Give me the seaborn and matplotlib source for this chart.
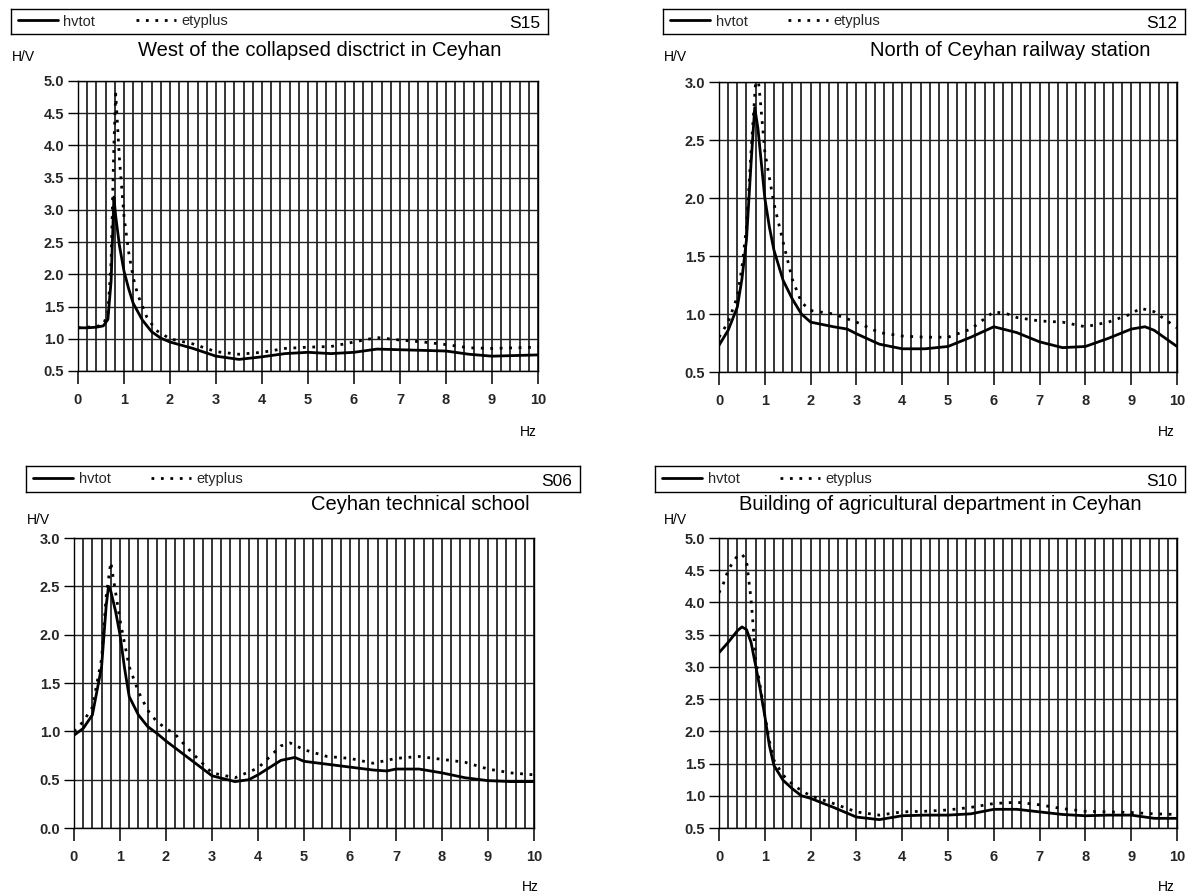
import numpy as np
import pandas as pd
import matplotlib
matplotlib.use("Agg")
import matplotlib.pyplot as plt
from matplotlib.lines import Line2D
from matplotlib.ticker import MultipleLocator
import seaborn as sns

# ---------------- data ----------------
series_names = ["hvtot", "etyplus"]
stations = ["S15", "S12", "S06", "S10"]
titles = ["West of the collapsed disctrict in Ceyhan",
          "North of Ceyhan railway station",
          "Ceyhan technical school",
          "Building of agricultural department in Ceyhan"]
ylims = [(0.5, 5.0), (0.5, 3.0), (0.0, 3.0), (0.5, 5.0)]
x_ticks = [0, 1, 2, 3, 4, 5, 6, 7, 8, 9, 10]

s15_hvtot_hz = [0, 0.2, 0.4, 0.55, 0.65, 0.72, 0.78, 0.82, 0.9, 1.0, 1.1, 1.2, 1.4, 1.6, 1.8, 2.0,
                2.5, 3.0, 3.5, 4.0, 4.5, 5.0, 5.5, 6.0, 6.5, 7.0, 7.5, 8.0, 8.5, 9.0, 9.5, 10]
s15_hvtot = [1.17, 1.17, 1.18, 1.2, 1.3, 1.9, 3.2, 2.9, 2.45, 2.05, 1.78, 1.55, 1.29, 1.11, 1.01, 0.95,
             0.85, 0.73, 0.68, 0.72, 0.77, 0.79, 0.77, 0.79, 0.84, 0.83, 0.82, 0.81, 0.76, 0.73, 0.74, 0.75]
s15_ety_hz = [0, 0.2, 0.4, 0.55, 0.65, 0.72, 0.78, 0.82, 0.86, 0.9, 1.0, 1.1, 1.2, 1.3, 1.5, 1.7, 2.0,
              2.5, 3.0, 3.5, 4.0, 4.5, 5.0, 5.5, 6.0, 6.5, 7.0, 7.5, 8.0, 8.5, 9.0, 9.5, 10]
s15_ety = [1.17, 1.18, 1.19, 1.22, 1.4, 2.2, 4.0, 4.8, 4.3, 3.8, 2.9, 2.35, 1.95, 1.68, 1.33, 1.13, 1.0,
           0.92, 0.8, 0.76, 0.79, 0.85, 0.87, 0.88, 0.95, 1.02, 0.98, 0.95, 0.91, 0.86, 0.85, 0.86, 0.87]

s12_hvtot_hz = [0, 0.2, 0.4, 0.5, 0.6, 0.7, 0.78, 0.85, 0.9, 1.0, 1.1, 1.2, 1.4, 1.6, 1.8, 2.0, 2.5,
                2.8, 3.0, 3.5, 4.0, 4.5, 5.0, 5.5, 6.0, 6.5, 7.0, 7.5, 8.0, 8.5, 9.0, 9.3, 9.5, 10]
s12_hvtot = [0.73, 0.86, 1.06, 1.3, 1.64, 2.3, 2.78, 2.6, 2.4, 2.0, 1.75, 1.55, 1.29, 1.13, 1.0, 0.93, 0.89,
             0.87, 0.83, 0.74, 0.7, 0.7, 0.72, 0.8, 0.89, 0.84, 0.76, 0.71, 0.72, 0.79, 0.87, 0.89, 0.86, 0.72]
s12_ety_hz = [0, 0.2, 0.4, 0.5, 0.6, 0.7, 0.8, 0.85, 0.9, 1.0, 1.2, 1.4, 1.6, 1.8, 2.0, 2.5, 3.0, 3.5,
              4.0, 4.5, 5.0, 5.5, 6.0, 6.3, 6.5, 7.0, 7.5, 8.0, 8.5, 9.0, 9.2, 9.5, 10]
s12_ety = [0.8, 0.93, 1.15, 1.4, 1.75, 2.4, 3.0, 3.05, 2.85, 2.4, 1.95, 1.62, 1.3, 1.1, 1.03, 1.0, 0.93, 0.84,
           0.81, 0.8, 0.8, 0.87, 1.02, 1.0, 0.97, 0.94, 0.93, 0.89, 0.93, 1.0, 1.05, 1.02, 0.88]

s06_hvtot_hz = [0, 0.2, 0.4, 0.6, 0.7, 0.75, 0.8, 0.9, 1.0, 1.1, 1.2, 1.4, 1.6, 1.8, 2.0, 2.5, 3.0, 3.5,
                3.8, 4.0, 4.5, 4.8, 5.0, 5.5, 6.0, 6.5, 6.8, 7.0, 7.5, 8.0, 8.5, 9.0, 9.5, 10]
s06_hvtot = [0.96, 1.03, 1.17, 1.67, 2.3, 2.5, 2.45, 2.25, 2.0, 1.65, 1.36, 1.17, 1.05, 0.98, 0.9, 0.72, 0.54,
             0.48, 0.5, 0.55, 0.7, 0.73, 0.69, 0.66, 0.63, 0.6, 0.59, 0.61, 0.61, 0.57, 0.52, 0.49, 0.48, 0.48]
s06_ety_hz = [0, 0.2, 0.4, 0.6, 0.7, 0.8, 0.9, 1.0, 1.2, 1.4, 1.6, 1.8, 2.0, 2.2, 2.5, 3.0, 3.5, 4.0, 4.5,
              4.7, 5.0, 5.5, 6.0, 6.5, 7.0, 7.5, 8.0, 8.5, 9.0, 9.5, 10]
s06_ety = [1.0, 1.1, 1.25, 1.75, 2.4, 2.75, 2.45, 2.15, 1.67, 1.41, 1.22, 1.1, 1.03, 0.97, 0.81, 0.57, 0.52,
           0.62, 0.85, 0.88, 0.81, 0.74, 0.72, 0.67, 0.72, 0.74, 0.71, 0.68, 0.61, 0.57, 0.55]

s10_hvtot_hz = [0, 0.2, 0.4, 0.5, 0.6, 0.7, 0.8, 0.9, 1.0, 1.1, 1.2, 1.4, 1.6, 1.8, 2.0, 2.5, 3.0, 3.5,
                4.0, 4.5, 5.0, 5.5, 6.0, 6.5, 7.0, 7.5, 8.0, 8.5, 9.0, 9.5, 10]
s10_hvtot = [3.22, 3.38, 3.56, 3.62, 3.58, 3.38, 3.02, 2.65, 2.24, 1.78, 1.47, 1.24, 1.11, 1.0, 0.96, 0.82,
             0.67, 0.63, 0.69, 0.7, 0.7, 0.72, 0.79, 0.79, 0.75, 0.71, 0.69, 0.7, 0.7, 0.65, 0.65]
s10_ety_hz = [0, 0.1, 0.2, 0.3, 0.4, 0.5, 0.6, 0.65, 0.7, 0.75, 0.8, 0.9, 1.0, 1.1, 1.2, 1.4, 1.6, 1.8,
              2.0, 2.5, 3.0, 3.5, 4.0, 4.5, 5.0, 5.5, 6.0, 6.5, 7.0, 7.5, 8.0, 8.5, 9.0, 9.5, 10]
s10_ety = [4.15, 4.3, 4.5, 4.62, 4.72, 4.75, 4.65, 4.35, 4.05, 3.6, 3.1, 2.7, 2.25, 1.85, 1.55, 1.32, 1.18,
           1.08, 1.0, 0.88, 0.75, 0.7, 0.75, 0.76, 0.78, 0.82, 0.88, 0.9, 0.86, 0.8, 0.76, 0.75, 0.74, 0.72, 0.71]

panel_data = [
    (s15_hvtot_hz, s15_hvtot, s15_ety_hz, s15_ety),
    (s12_hvtot_hz, s12_hvtot, s12_ety_hz, s12_ety),
    (s06_hvtot_hz, s06_hvtot, s06_ety_hz, s06_ety),
    (s10_hvtot_hz, s10_hvtot, s10_ety_hz, s10_ety),
]

# ---------------- layout (pixels) ----------------
W, H = 1195, 896
sns.set_theme(style="white")
plt.rcParams["font.family"] = ["Liberation Sans", "DejaVu Sans"]

fig = plt.figure(figsize=(W / 100, H / 100), dpi=100)


def fx(px):
    return px / W


def fy(py):
    return 1 - py / H


# axes boxes: left, right, top, bottom in px
axes_px = [(78, 538, 81, 371), (719, 1177, 82, 372), (74, 534, 538, 828), (719, 1177, 538, 828)]
header_px = [(11, 548, 9, 34), (663, 1185, 9, 34), (26, 580, 466, 492), (655, 1185, 466, 492)]
title_px = [(320, 50), (1010, 50), (420, 505), (940, 505)]
hv_px = [(12, 57), (664, 57), (27, 520), (664, 520)]
hz_px = [(528, 432), (1166, 432), (530, 887), (1166, 887)]

for i in range(4):
    l, r, t, b = axes_px[i]
    ax = fig.add_axes([fx(l), fy(b), (r - l) / W, (b - t) / H])
    hz_h, v_h, hz_e, v_e = panel_data[i]
    df_h = pd.DataFrame({"Hz": hz_h, "HV": v_h})
    df_e = pd.DataFrame({"Hz": hz_e, "HV": v_e})
    sns.lineplot(data=df_h, x="Hz", y="HV", ax=ax, color="black", linewidth=2.0, zorder=5)
    sns.lineplot(data=df_e, x="Hz", y="HV", ax=ax, color="black", linewidth=2.0,
                 linestyle=(0, (1, 2.4)), zorder=5)
    ax.set_xlim(0, 10)
    ax.set_ylim(*ylims[i])
    ax.set_xticks(x_ticks)
    ax.xaxis.set_minor_locator(MultipleLocator(0.2))
    ax.yaxis.set_major_locator(MultipleLocator(0.5))
    ax.yaxis.set_major_formatter(matplotlib.ticker.FormatStrFormatter("%.1f"))
    ax.grid(which="both", axis="x", color="black", linewidth=1.1)
    ax.grid(which="major", axis="y", color="#222222", linewidth=1.0)
    ax.tick_params(axis="x", which="major", length=9, width=1.1, color="black",
                   direction="out", pad=7, labelsize=10.5, bottom=True)
    ax.tick_params(axis="x", which="minor", length=0, bottom=False)
    ax.tick_params(axis="y", which="major", length=7, width=1.0, color="black",
                   direction="out", pad=3, labelsize=10.5, left=True)
    for lab in ax.get_xticklabels() + ax.get_yticklabels():
        lab.set_fontweight("bold")
    for sp in ax.spines.values():
        sp.set_color("black")
        sp.set_linewidth(1.0)
    ax.set_xlabel("")
    ax.set_ylabel("")
    ax.set_facecolor("white")

    # header box with legend and station label
    hl, hr, ht, hb = header_px[i]
    hdr = fig.add_axes([fx(hl), fy(hb), (hr - hl) / W, (hb - ht) / H])
    hdr.set_xticks([])
    hdr.set_yticks([])
    for sp in hdr.spines.values():
        sp.set_color("black")
        sp.set_linewidth(1.0)
    handles = [Line2D([], [], color="black", linewidth=2.0),
               Line2D([], [], color="black", linewidth=2.0, linestyle=(0, (1, 2.4)))]
    hdr.legend(handles, series_names, loc="center left", ncol=2, frameon=False,
               fontsize=10.5, handlelength=2.7, handletextpad=0.4, columnspacing=2.8,
               borderaxespad=0.1, bbox_to_anchor=(0.0, 0.5))
    hdr.text(0.985, 0.4, stations[i], transform=hdr.transAxes, ha="right", va="center",
             fontsize=12.5, color="black")

    tx, ty = title_px[i]
    fig.text(fx(tx), fy(ty), titles[i], ha="center", va="center", fontsize=14.5, color="black")
    hx, hy = hv_px[i]
    fig.text(fx(hx), fy(hy), "H/V", ha="left", va="center", fontsize=10, color="black")
    zx, zy = hz_px[i]
    fig.text(fx(zx), fy(zy), "Hz", ha="center", va="center", fontsize=10, color="black")

fig.savefig("out.png", dpi=100, facecolor="white")
